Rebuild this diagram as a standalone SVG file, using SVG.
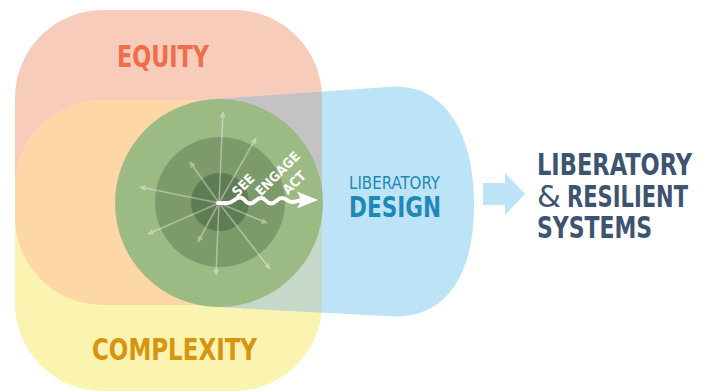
<svg xmlns="http://www.w3.org/2000/svg" width="711" height="392" viewBox="0 0 711 392">
<style>
.lbl{font-family:"Liberation Sans Narrow","DejaVu Sans Condensed","Liberation Sans",sans-serif;font-stretch:condensed;font-weight:bold}
.act{fill:#ffffff;font-size:13.5px;text-anchor:middle}
.sys{fill:#3d5470;font-size:30px}
</style>
<defs>
<clipPath id="clipPink"><rect x="15" y="10" width="307" height="295" rx="88" ry="88"/></clipPath>
<clipPath id="clipWedge"><path d="M212 99.3 L395 86.5 C450 86.5 474 140 474 205 C474 270 450 316.5 395 316.5 L212.7 306.8 L180 203 Z"/></clipPath>
<clipPath id="clipTop"><rect x="0" y="0" width="711" height="203"/></clipPath>
<marker id="ah" viewBox="0 0 10 10" refX="9" refY="5" markerWidth="7" markerHeight="6" markerUnits="userSpaceOnUse" orient="auto">
<path d="M0 0 L10 5 L0 10 Z" fill="#ffffff"/>
</marker>
</defs>
<g id="equity">
<rect x="15" y="10" width="307" height="295" rx="88" ry="88" fill="#f8ccba"/>
<text class="lbl" x="117" y="67" font-size="30" fill="#ef6d4b" textLength="92" lengthAdjust="spacingAndGlyphs">EQUITY</text>
</g>
<g id="complexity">
<rect x="15" y="100" width="307" height="291" rx="88" ry="88" fill="#fbf3b0"/>
<rect x="15" y="100" width="307" height="291" rx="88" ry="88" fill="#fdd7a6" clip-path="url(#clipPink)"/>
<text class="lbl" x="92" y="360" font-size="30" fill="#d8930f" textLength="165" lengthAdjust="spacingAndGlyphs">COMPLEXITY</text>
</g>
<g id="liberatory-design">
<path d="M212 99.3 L395 86.5 C450 86.5 474 140 474 205 C474 270 450 316.5 395 316.5 L212.7 306.8 L180 203 Z" fill="#bde4f6"/>
<g clip-path="url(#clipWedge)">
<rect x="15" y="100" width="307" height="291" rx="88" ry="88" fill="#c5d8c9"/>
<g clip-path="url(#clipTop)">
<rect x="15" y="10" width="307" height="295" rx="88" ry="88" fill="#c4c2c5"/>
</g>
</g>
<text class="lbl" x="349" y="189" font-size="17" font-weight="normal" style="font-weight:normal" fill="#1e88b6" textLength="91" lengthAdjust="spacingAndGlyphs">LIBERATORY</text>
<text class="lbl" x="349" y="217" font-size="28" fill="#1e88b6" textLength="92" lengthAdjust="spacingAndGlyphs">DESIGN</text>
</g>
<g id="see-engage-act">
<circle cx="219" cy="203" r="104" fill="#9cba84"/>
<circle cx="220" cy="202" r="65" fill="#7c9a6a"/>
<circle cx="220" cy="202" r="29" fill="#5f7d52"/>
<g opacity="0.38" stroke="#ffffff" stroke-width="1.6" fill="none">
<line x1="219" y1="203" x2="223" y2="112" marker-end="url(#ah)"/>
<line x1="219" y1="203" x2="256" y2="138" marker-end="url(#ah)"/>
<line x1="219" y1="203" x2="190" y2="162" marker-end="url(#ah)"/>
<line x1="219" y1="203" x2="140" y2="187" marker-end="url(#ah)"/>
<line x1="219" y1="203" x2="148" y2="234" marker-end="url(#ah)"/>
<line x1="219" y1="203" x2="198" y2="242" marker-end="url(#ah)"/>
<line x1="219" y1="203" x2="216" y2="275" marker-end="url(#ah)"/>
<line x1="219" y1="203" x2="270" y2="269" marker-end="url(#ah)"/>
<line x1="219" y1="203" x2="267" y2="223" marker-end="url(#ah)"/>
</g>
<path d="M218 203 L228 203 C233 203 235 197.5 240 197.5 S245 203.5 250 203.5 S256 198 261 198 S266 203.5 271 203.5 S277 198 282 198 S288 203 293 202 L303 200" fill="none" stroke="#ffffff" stroke-width="4" stroke-linecap="round"/>
<path d="M318 200 L297 191.5 Q303 200 297 208.5 Z" fill="#ffffff"/>
<text class="lbl act" x="243" y="185" dy="0.36em" transform="rotate(-45 243 185)">SEE</text>
<text class="lbl act" x="277.5" y="173.5" dy="0.36em" transform="rotate(-45 277.5 173.5)">ENGAGE</text>
<text class="lbl act" x="294" y="182.5" dy="0.36em" transform="rotate(-45 294 182.5)">ACT</text>
</g>
<g id="connectors">
<path d="M483 183 L505 183 L505 173 L525 194 L505 215 L505 205 L483 205 Z" fill="#bde4f6"/>
</g>
<g id="systems">
<text class="lbl sys" x="537" y="175" textLength="155" lengthAdjust="spacingAndGlyphs">LIBERATORY</text>
<text class="lbl sys" x="537" y="207" font-weight="normal" style="font-weight:normal" textLength="24" lengthAdjust="spacingAndGlyphs">&amp;</text>
<text class="lbl sys" x="567" y="207" textLength="121" lengthAdjust="spacingAndGlyphs">RESILIENT</text>
<text class="lbl sys" x="537" y="238" textLength="115" lengthAdjust="spacingAndGlyphs">SYSTEMS</text>
</g>
</svg>
